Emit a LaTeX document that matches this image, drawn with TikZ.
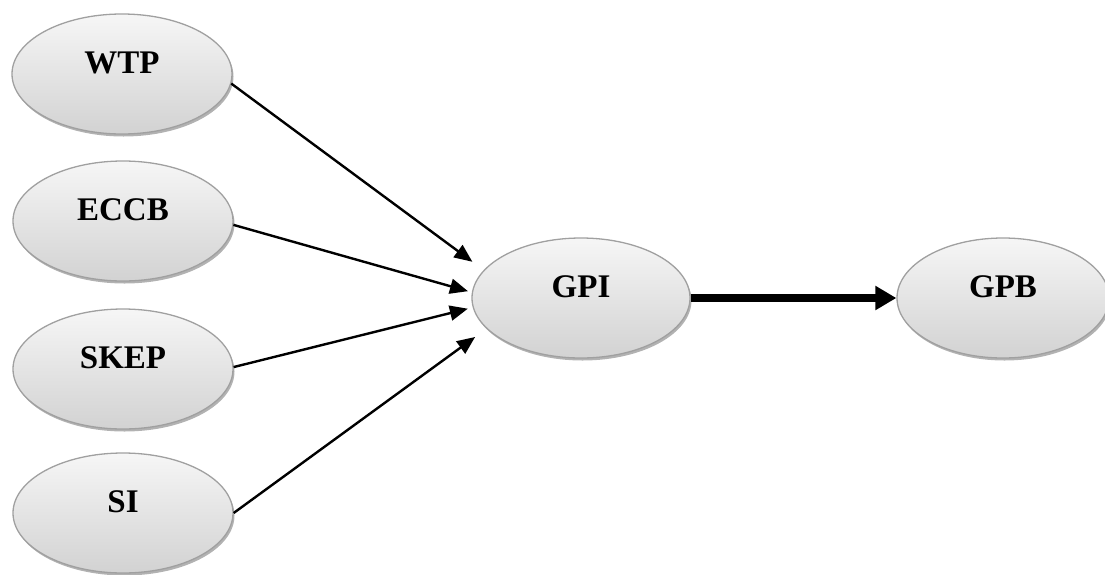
\documentclass[tikz,border=0pt]{standalone}
\usepackage{fontspec}
\setmainfont{Liberation Serif}
\usetikzlibrary{arrows.meta,shadows,shapes.geometric}
\definecolor{elltop}{RGB}{246,246,246}
\definecolor{ellbot}{RGB}{210,210,210}
\definecolor{ellline}{RGB}{160,160,160}
\tikzset{
  construct/.style={ellipse, draw=ellline, line width=1.3pt,
    top color=elltop, bottom color=ellbot,
    minimum width=220pt, minimum height=120pt, inner sep=0pt,
    text height=10pt, text depth=11pt,
    font=\fontsize{33}{38}\selectfont\bfseries,
    drop shadow={shadow xshift=1.5pt, shadow yshift=-2.5pt, fill=black, opacity=0.3}},
  thinarrow/.style={line width=2.4pt, -{Triangle[length=18pt,width=15pt]}},
  thickarrow/.style={line width=8.5pt, -{Triangle[length=21pt,width=23pt]}}
}
\begin{document}
\begin{tikzpicture}[x=1pt,y=-1pt]
\useasboundingbox[fill=white] (0,0) rectangle (1105,574);
\node[construct] (wtp)  at (122,74)  {WTP};
\node[construct] (eccb) at (123,221) {ECCB};
\node[construct] (skep) at (123,369) {SKEP};
\node[construct] (si)   at (123,513) {SI};
\node[construct, minimum width=218pt] (gpi) at (581,298) {GPI};
\node[construct, minimum width=212pt] (gpb) at (1003,298) {GPB};
\draw[thinarrow, shorten >=14pt] (wtp.-5) -- (gpi.164);
\draw[thinarrow, shorten >=4pt] (eccb.-2) -- (gpi.177);
\draw[thinarrow, shorten >=5pt] (skep.1) -- (gpi.185);
\draw[thinarrow, shorten >=14pt] (si.east) -- (gpi.198);
\draw[thickarrow] (gpi.east) -- (gpb.west);
\end{tikzpicture}
\end{document}
